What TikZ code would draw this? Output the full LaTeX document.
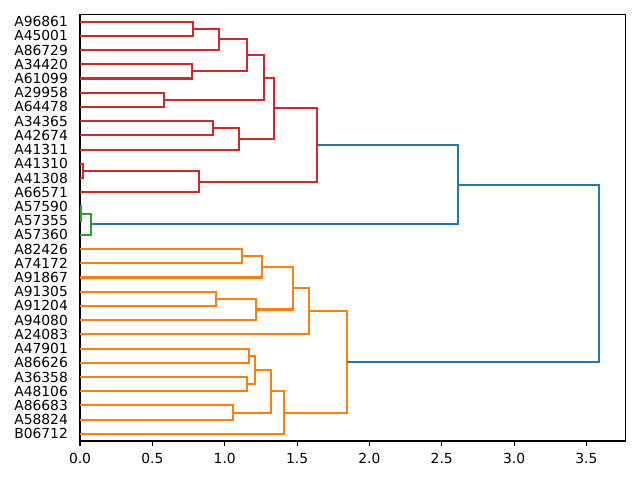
\documentclass[tikz,border=0pt]{standalone}
\usepackage{fontspec}
\setmainfont{DejaVu Sans}
\usepackage{tikz}
\definecolor{linkblue}{HTML}{1F77B4}
\definecolor{linkorange}{HTML}{FF7F0E}
\definecolor{linkgreen}{HTML}{2CA02C}
\definecolor{linkred}{HTML}{D62728}
\tikzset{
    link/.style={line width=1.5pt},
    leaflabel/.style={anchor=east, inner sep=0pt, xshift=-8.6pt, font=\fontsize{10}{12}\selectfont},
    ticklabel/.style={anchor=north, inner sep=0pt, yshift=-9pt, font=\fontsize{10}{12}\selectfont},
    spine/.style={line width=0.8pt, black}
}

\begin{document}
\begin{tikzpicture}[x=0.01in, y=0.01in]
            \useasboundingbox (0,0) rectangle (640,480);
            \begin{scope}[xshift=0.8in, yshift=0.39in, x=1.446in, y=0.0142in]
            % leaves
            \coordinate (A96861) at (0,295);
            \coordinate (A45001) at (0,285);
            \coordinate (A86729) at (0,275);
            \coordinate (A34420) at (0,265);
            \coordinate (A61099) at (0,255);
            \coordinate (A29958) at (0,245);
            \coordinate (A64478) at (0,235);
            \coordinate (A34365) at (0,225);
            \coordinate (A42674) at (0,215);
            \coordinate (A41311) at (0,205);
            \coordinate (A41310) at (0,195);
            \coordinate (A41308) at (0,185);
            \coordinate (A66571) at (0,175);
            \coordinate (A57590) at (0,165);
            \coordinate (A57355) at (0,155);
            \coordinate (A57360) at (0,145);
            \coordinate (A82426) at (0,135);
            \coordinate (A74172) at (0,125);
            \coordinate (A91867) at (0,115);
            \coordinate (A91305) at (0,105);
            \coordinate (A91204) at (0,95);
            \coordinate (A94080) at (0,85);
            \coordinate (A24083) at (0,75);
            \coordinate (A47901) at (0,65);
            \coordinate (A86626) at (0,55);
            \coordinate (A36358) at (0,45);
            \coordinate (A48106) at (0,35);
            \coordinate (A86683) at (0,25);
            \coordinate (A58824) at (0,15);
            \coordinate (B06712) at (0,5);
            
            \node[leaflabel] (tA96861) at (A96861) {A96861};
            \node[leaflabel] (tA45001) at (A45001) {A45001};
            \node[leaflabel] (tA86729) at (A86729) {A86729};
            \node[leaflabel] (tA34420) at (A34420) {A34420};
            \node[leaflabel] (tA61099) at (A61099) {A61099};
            \node[leaflabel] (tA29958) at (A29958) {A29958};
            \node[leaflabel] (tA64478) at (A64478) {A64478};
            \node[leaflabel] (tA34365) at (A34365) {A34365};
            \node[leaflabel] (tA42674) at (A42674) {A42674};
            \node[leaflabel] (tA41311) at (A41311) {A41311};
            \node[leaflabel] (tA41310) at (A41310) {A41310};
            \node[leaflabel] (tA41308) at (A41308) {A41308};
            \node[leaflabel] (tA66571) at (A66571) {A66571};
            \node[leaflabel] (tA57590) at (A57590) {A57590};
            \node[leaflabel] (tA57355) at (A57355) {A57355};
            \node[leaflabel] (tA57360) at (A57360) {A57360};
            \node[leaflabel] (tA82426) at (A82426) {A82426};
            \node[leaflabel] (tA74172) at (A74172) {A74172};
            \node[leaflabel] (tA91867) at (A91867) {A91867};
            \node[leaflabel] (tA91305) at (A91305) {A91305};
            \node[leaflabel] (tA91204) at (A91204) {A91204};
            \node[leaflabel] (tA94080) at (A94080) {A94080};
            \node[leaflabel] (tA24083) at (A24083) {A24083};
            \node[leaflabel] (tA47901) at (A47901) {A47901};
            \node[leaflabel] (tA86626) at (A86626) {A86626};
            \node[leaflabel] (tA36358) at (A36358) {A36358};
            \node[leaflabel] (tA48106) at (A48106) {A48106};
            \node[leaflabel] (tA86683) at (A86683) {A86683};
            \node[leaflabel] (tA58824) at (A58824) {A58824};
            \node[leaflabel] (tB06712) at (B06712) {B06712};
            
            % merges
            \coordinate (r1) at (0.779,290);
            \coordinate (r2) at (0.963,282.5);
            \coordinate (r3) at (0.772,260);
            \coordinate (r4) at (1.157,271.25);
            \coordinate (r5) at (0.579,240);
            \coordinate (r6) at (1.272,255.6);
            \coordinate (r7) at (0.918,220);
            \coordinate (r8) at (1.097,212.5);
            \coordinate (r9) at (1.342,234.06);
            \coordinate (r10) at (0.023,190);
            \coordinate (r11) at (0.823,182.5);
            \coordinate (r12) at (1.637,208.3);
            \coordinate (g1) at (0.006,160);
            \coordinate (g2) at (0.074,152.5);
            \coordinate (b1) at (2.614,180.4);
            \coordinate (o1) at (1.118,130);
            \coordinate (o2) at (1.259,122.5);
            \coordinate (o3) at (0.941,100);
            \coordinate (o4) at (1.215,92.5);
            \coordinate (o5) at (1.471,107.5);
            \coordinate (o6) at (1.584,91.25);
            \coordinate (o7) at (1.167,60);
            \coordinate (o8) at (1.153,40);
            \coordinate (o9) at (1.210,50);
            \coordinate (o10) at (1.058,20);
            \coordinate (o11) at (1.321,35);
            \coordinate (o12) at (1.409,20);
            \coordinate (o13) at (1.846,55.6);
            \coordinate (root) at (3.589,118);
            
            \coordinate (axsw) at (0,0);
            \coordinate (axne) at (3.769,300);
            
            \draw[spine] (axsw) rectangle (axne);
            
            \begin{scope}
            \clip (axsw) rectangle (axne);
            \draw[link, linkred] (A96861) -| (r1) |- (A45001);
            \draw[link, linkred] (r1) -| (r2) |- (A86729);
            \draw[link, linkred] (A34420) -| (r3) |- (A61099);
            \draw[link, linkred] (r2) -| (r4) |- (r3);
            \draw[link, linkred] (A29958) -| (r5) |- (A64478);
            \draw[link, linkred] (r4) -| (r6) |- (r5);
            \draw[link, linkred] (A34365) -| (r7) |- (A42674);
            \draw[link, linkred] (r7) -| (r8) |- (A41311);
            \draw[link, linkred] (r6) -| (r9) |- (r8);
            \draw[link, linkred] (A41310) -| (r10) |- (A41308);
            \draw[link, linkred] (r10) -| (r11) |- (A66571);
            \draw[link, linkred] (r9) -| (r12) |- (r11);
            
            \draw[link, linkgreen] (A57590) -| (g1) |- (A57355);
            \draw[link, linkgreen] (g1) -| (g2) |- (A57360);
            
            \draw[link, linkorange] (A82426) -| (o1) |- (A74172);
            \draw[link, linkorange] (o1) -| (o2) |- (A91867);
            \draw[link, linkorange] (A91305) -| (o3) |- (A91204);
            \draw[link, linkorange] (o3) -| (o4) |- (A94080);
            \draw[link, linkorange] (o2) -| (o5) |- (o4);
            \draw[link, linkorange] (o5) -| (o6) |- (A24083);
            \draw[link, linkorange] (A47901) -| (o7) |- (A86626);
            \draw[link, linkorange] (A36358) -| (o8) |- (A48106);
            \draw[link, linkorange] (o7) -| (o9) |- (o8);
            \draw[link, linkorange] (A86683) -| (o10) |- (A58824);
            \draw[link, linkorange] (o9) -| (o11) |- (o10);
            \draw[link, linkorange] (o11) -| (o12) |- (B06712);
            \draw[link, linkorange] (o6) -| (o13) |- (o12);
            
            \draw[link, linkblue] (r12) -| (b1) |- (g2);
            \draw[link, linkblue] (b1) -| (root) |- (o13);
            \end{scope}
            
            % x ticks
            \coordinate (t0) at (0,0);
            \coordinate (t1) at (0.5,0);
            \coordinate (t2) at (1.0,0);
            \coordinate (t3) at (1.5,0);
            \coordinate (t4) at (2.0,0);
            \coordinate (t5) at (2.5,0);
            \coordinate (t6) at (3.0,0);
            \coordinate (t7) at (3.5,0);
            \draw[spine] (t0) -- ++(0,-3.5pt);
            \draw[spine] (t1) -- ++(0,-3.5pt);
            \draw[spine] (t2) -- ++(0,-3.5pt);
            \draw[spine] (t3) -- ++(0,-3.5pt);
            \draw[spine] (t4) -- ++(0,-3.5pt);
            \draw[spine] (t5) -- ++(0,-3.5pt);
            \draw[spine] (t6) -- ++(0,-3.5pt);
            \draw[spine] (t7) -- ++(0,-3.5pt);
            \node[ticklabel] (x0) at (t0) {0.0};
            \node[ticklabel] (x1) at (t1) {0.5};
            \node[ticklabel] (x2) at (t2) {1.0};
            \node[ticklabel] (x3) at (t3) {1.5};
            \node[ticklabel] (x4) at (t4) {2.0};
            \node[ticklabel] (x5) at (t5) {2.5};
            \node[ticklabel] (x6) at (t6) {3.0};
            \node[ticklabel] (x7) at (t7) {3.5};
            \end{scope}
\end{tikzpicture}
\end{document}
